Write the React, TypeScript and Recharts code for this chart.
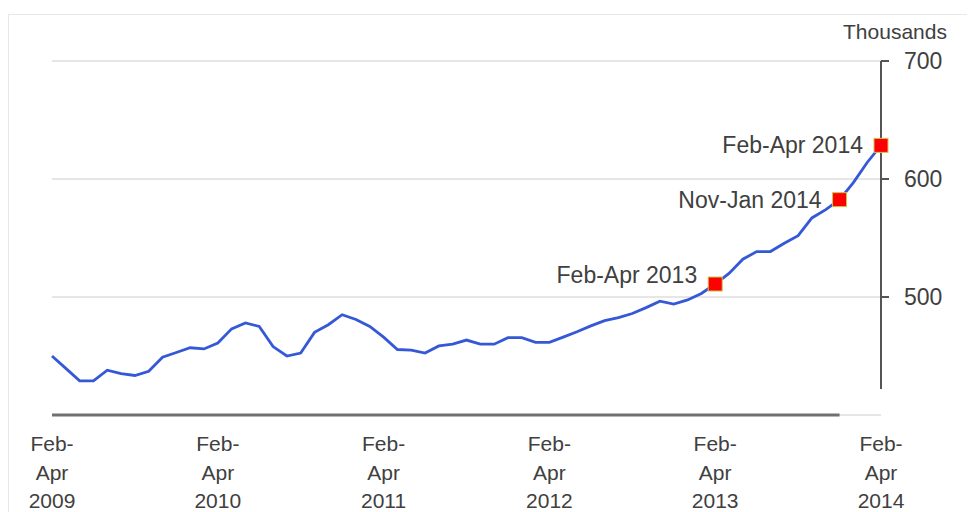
import React from "react";
import {
  LineChart,
  Line,
  XAxis,
  YAxis,
  CartesianGrid,
  ReferenceLine,
  Customized,
} from "recharts";

// rolling three-month periods, Feb-Apr 2009 .. Feb-Apr 2014
const monthNames = ["Jan", "Feb", "Mar", "Apr", "May", "Jun", "Jul", "Aug", "Sep", "Oct", "Nov", "Dec"];
const periods: string[] = [];
for (let i = 0; i <= 60; i++) {
  const start = (1 + i) % 12;
  const end = (start + 2) % 12;
  const year = 2009 + Math.floor((3 + i) / 12);
  periods.push(`${monthNames[start]}-${monthNames[end]} ${year}`);
}

// thousands
const values = [
  450, 439.5, 429, 429, 438, 435, 433.5, 437, 449, 453, 457, 456,
  461, 473, 478, 475, 458, 450, 452.5, 470, 476.5, 485, 481, 475,
  466, 455.5, 455, 452.5, 458.5, 460, 463.5, 460, 460, 465.5, 465.5, 461.5,
  461.5, 466, 470.5, 475.5, 480, 482.5, 486, 491, 496.5, 494, 497.5, 503,
  511, 520, 532, 538.5, 538.5, 545.5, 552, 567, 574, 582.5, 597, 614,
  628.5,
];

const yTicks = [500, 600, 700];
const highlighted = ["Feb-Apr 2013", "Nov-Jan 2014", "Feb-Apr 2014"];

const rows = periods.map((period, i) => ({ period, value: values[i] }));

const FONT = "'Liberation Sans', Arial, sans-serif";
const TEXT = "#404040";

function XTick({ x, y, payload }: any) {
  const [range, year] = payload.value.split(" ");
  const [from, to] = range.split("-");
  return (
    <text textAnchor="middle" fontFamily={FONT} fontSize={21} fill={TEXT}>
      <tspan x={x} y={y + 36}>{from}-</tspan>
      <tspan x={x} y={y + 65}>{to}</tspan>
      <tspan x={x} y={y + 93}>{year}</tspan>
    </text>
  );
}

function Marker({ cx, cy, payload, index }: any) {
  if (!highlighted.includes(payload.period)) return <g key={index} />;
  const lift = payload.period === "Feb-Apr 2013" ? -1 : 8; // keep the 2013 note off the line
  return (
    <g key={index}>
      <rect x={cx - 7} y={cy - 7} width={14} height={14} fill="#ff0000" stroke="#c8c850" strokeWidth={1} />
      <text x={cx - 18} y={cy + lift} textAnchor="end" fontFamily={FONT} fontSize={23} fill={TEXT}>
        {payload.period}
      </text>
    </g>
  );
}

export default function App() {
  return (
    <div style={{ width: 967, height: 504, overflow: "hidden", position: "relative" }}>
      <div
        style={{
          position: "absolute",
          left: 0,
          top: 6,
          width: 1000,
          height: 600,
          borderTop: "1px solid #e8e8e8",
          borderLeft: "1px solid #e8e8e8",
        }}
      >
        <LineChart
          width={975}
          height={510}
          data={rows}
          margin={{ top: 46, right: 23, bottom: 20, left: 43 }}
        >
          <CartesianGrid vertical={false} stroke="#cccccc" />
          <XAxis
            dataKey="period"
            interval={11}
            tickLine={false}
            axisLine={false}
            tickSize={0}
            tickMargin={0}
            height={90}
            tick={<XTick />}
          />
          <YAxis
            orientation="right"
            domain={[400, 700]}
            ticks={yTicks}
            axisLine={false}
            tickLine={{ stroke: "#555", strokeWidth: 2 }}
            tickSize={8}
            tickMargin={15}
            width={80}
            tick={{ fill: TEXT, fontSize: 23, fontFamily: FONT, textAnchor: "start" }}
          />
          <ReferenceLine
            segment={[
              { x: periods[0], y: 400 },
              { x: periods[57], y: 400 },
            ]}
            stroke="#707070"
            strokeWidth={3}
          />
          <ReferenceLine
            segment={[
              { x: periods[60], y: 422 },
              { x: periods[60], y: 700 },
            ]}
            stroke="#555"
            strokeWidth={2}
          />
          <Line
            dataKey="value"
            type="linear"
            stroke="#3558d6"
            strokeWidth={2.8}
            dot={<Marker />}
            activeDot={false}
            isAnimationActive={false}
          />
          <Customized
            component={() => (
              <text x={886} y={24} textAnchor="middle" fontFamily={FONT} fontSize={21} fill={TEXT}>
                Thousands
              </text>
            )}
          />
        </LineChart>
      </div>
    </div>
  );
}
